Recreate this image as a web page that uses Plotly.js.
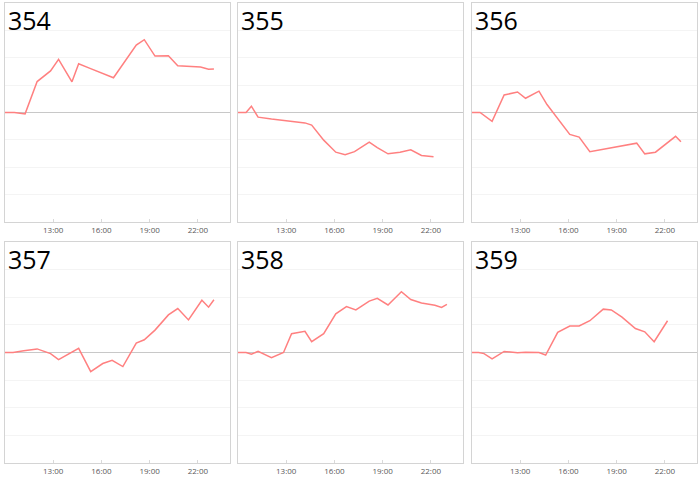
<!DOCTYPE html>
<html>
<head>
<meta charset="utf-8">
<script src="https://cdn.plot.ly/plotly-3.0.1.min.js"></script>
<style>
  html, body { margin: 0; padding: 0; background: #fff; }
  #chart { width: 700px; height: 477px; }
</style>
</head>
<body>
<div id="chart"></div>
<script>
// panel ids
const panelNames = ['354', '355', '356', '357', '358', '359'];

// time of day for each point, per panel
const t354 = ['10:00','10:35','11:15','12:00','12:50','13:20','14:10','14:35','15:15','16:05','16:45','18:10','18:40','19:20','20:10','20:45','22:10','22:40','23:00'];
const v354 = [0, 0, -0.05, 1.13, 1.52, 1.94, 1.12, 1.78, 1.62, 1.41, 1.27, 2.46, 2.66, 2.06, 2.07, 1.71, 1.66, 1.58, 1.59];

const t355 = ['10:00','10:30','10:50','11:15','12:05','14:10','14:35','15:20','16:05','16:40','17:15','18:10','18:40','19:20','20:05','20:45','21:25','22:10'];
const v355 = [0, 0, 0.23, -0.17, -0.24, -0.38, -0.46, -1.01, -1.45, -1.54, -1.43, -1.08, -1.28, -1.51, -1.45, -1.36, -1.57, -1.62];

const t356 = ['10:00','10:30','11:15','12:00','12:50','13:20','14:10','14:40','16:05','16:40','17:20','20:15','20:45','21:25','22:40','23:00'];
const v356 = [0, 0, -0.32, 0.64, 0.75, 0.52, 0.78, 0.29, -0.80, -0.90, -1.43, -1.12, -1.51, -1.45, -0.87, -1.07];

const t357 = ['10:00','10:30','11:10','12:00','12:50','13:20','14:35','15:20','16:05','16:40','17:20','18:10','18:40','19:20','20:10','20:45','21:25','22:15','22:40','23:00'];
const v357 = [0, 0, 0.06, 0.13, -0.04, -0.26, 0.15, -0.69, -0.40, -0.28, -0.51, 0.34, 0.46, 0.81, 1.36, 1.59, 1.18, 1.89, 1.64, 1.91];

const t358 = ['10:00','10:30','10:50','11:15','12:05','12:50','13:20','14:10','14:35','15:20','16:05','16:45','17:20','18:10','18:40','19:20','20:10','20:45','21:25','22:15','22:40','23:00'];
const v358 = [0, 0, -0.06, 0.04, -0.19, 0, 0.68, 0.77, 0.39, 0.68, 1.40, 1.66, 1.54, 1.86, 1.96, 1.72, 2.20, 1.92, 1.79, 1.71, 1.63, 1.74];

const t359 = ['10:00','10:25','10:45','11:15','12:00','12:50','13:20','14:10','14:35','15:20','16:05','16:40','17:20','18:10','18:40','19:20','20:10','20:45','21:20','22:10'];
const v359 = [0, 0, -0.04, -0.23, 0.04, -0.01, 0.01, 0, -0.09, 0.73, 0.96, 0.96, 1.15, 1.57, 1.54, 1.28, 0.87, 0.75, 0.39, 1.15];

const xTicks = ['13:00', '16:00', '19:00', '22:00'];

const day = '2024-01-01 ';
const series = [[t354, v354], [t355, v355], [t356, v356], [t357, v357], [t358, v358], [t359, v359]];

// panel domains (px converted to fractions of 700x477)
const colDomains = [[5 / 700, 230 / 700], [238 / 700, 463 / 700], [472 / 700, 697 / 700]];
const rowDomains = [[1 - 222 / 477, 1 - 3 / 477], [1 - 463 / 477, 1 - 242 / 477]];

const traces = [];
const layout = {
    width: 700,
    height: 477,
    margin: { l: 0, r: 0, t: 0, b: 0 },
    paper_bgcolor: '#fff',
    plot_bgcolor: '#fff',
    showlegend: false,
    annotations: []
};

series.forEach(([times, vals], i) => {
    const n = i + 1;
    const xa = n === 1 ? 'x' : 'x' + n;
    const ya = n === 1 ? 'y' : 'y' + n;

    traces.push({
        x: times.map(t => day + t),
        y: vals,
        xaxis: xa,
        yaxis: ya,
        mode: 'lines',
        line: { color: '#ff8080', width: 1.5 },
        hoverinfo: 'skip'
    });

    layout['xaxis' + (n === 1 ? '' : n)] = {
        domain: colDomains[i % 3],
        anchor: ya,
        type: 'date',
        range: [day + '10:00', '2024-01-02 00:00'],
        tickvals: xTicks.map(t => day + t),
        tickformat: '%H:%M',
        tickfont: { family: 'Open Sans, sans-serif', size: 8, color: '#595959' },
        ticks: 'inside',
        ticklen: 3,
        tickcolor: '#d9d9d9',
        showgrid: false,
        zeroline: false,
        showline: true,
        mirror: true,
        linecolor: '#d4d4d4',
        linewidth: 1.2
    };

    layout['yaxis' + (n === 1 ? '' : n)] = {
        domain: rowDomains[Math.floor(i / 3)],
        anchor: xa,
        range: [-4, 4],
        dtick: 1,
        showticklabels: false,
        ticks: '',
        gridcolor: '#f4f4f4',
        zeroline: true,
        zerolinecolor: '#c8c8c8',
        zerolinewidth: 1.5,
        showline: true,
        mirror: true,
        linecolor: '#d4d4d4',
        linewidth: 1.2
    };

    layout.annotations.push({
        text: panelNames[i],
        xref: xa + ' domain',
        yref: ya + ' domain',
        x: 0.005,
        y: 1.01,
        xanchor: 'left',
        yanchor: 'top',
        showarrow: false,
        font: { family: 'Open Sans, sans-serif', size: 25, color: '#000' }
    });
});

Plotly.newPlot('chart', traces, layout, { displayModeBar: false, staticPlot: true });
</script>
</body>
</html>
